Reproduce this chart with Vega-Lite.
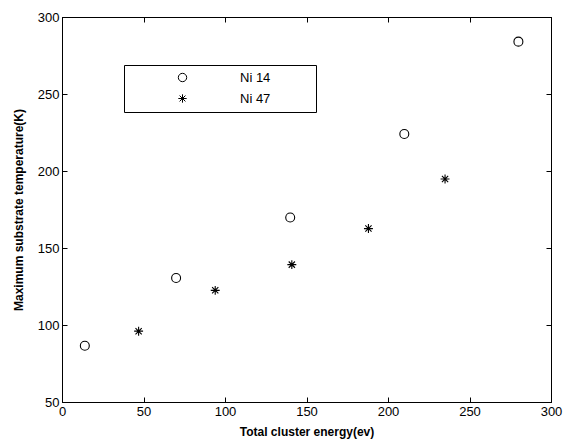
{
  "$schema": "https://vega.github.io/schema/vega-lite/v6.json",
  "width": 489,
  "height": 385,
  "autosize": {"type": "none"},
  "padding": {"left": 62, "top": 17, "right": 12, "bottom": 41},
  "background": "white",
  "config": {
    "view": {"stroke": "black", "strokeWidth": 1},
    "font": "Liberation Sans",
    "axis": {
      "grid": false,
      "domainColor": "black",
      "tickColor": "black",
      "labelColor": "black",
      "titleColor": "black",
      "tickSize": -5,
      "labelFont": "Liberation Sans",
      "labelFontSize": 13,
      "titleFont": "Liberation Sans",
      "titleFontSize": 12,
      "titleFontWeight": "bold",
      "labelFlush": false,
      "labelOverlap": false
    }
  },
  "data": {
    "values": [
      {"energy": 14, "temp": 86.5, "series": "Ni 14"},
      {"energy": 70, "temp": 130.5, "series": "Ni 14"},
      {"energy": 140, "temp": 169.8, "series": "Ni 14"},
      {"energy": 210, "temp": 224, "series": "Ni 14"},
      {"energy": 280, "temp": 284, "series": "Ni 14"},
      {"energy": 47, "temp": 96, "series": "Ni 47"},
      {"energy": 94, "temp": 122.5, "series": "Ni 47"},
      {"energy": 141, "temp": 139.2, "series": "Ni 47"},
      {"energy": 188, "temp": 162.6, "series": "Ni 47"},
      {"energy": 235, "temp": 194.8, "series": "Ni 47"}
    ]
  },
  "layer": [
    {
      "mark": {"type": "point", "filled": false, "strokeWidth": 1.1, "color": "black", "size": 80, "opacity": 1},
      "encoding": {
        "x": {
          "field": "energy", "type": "quantitative",
          "scale": {"domain": [0, 300], "nice": false, "zero": false},
          "axis": {"orient": "bottom", "values": [0, 50, 100, 150, 200, 250, 300], "title": "Total cluster energy(ev)", "labelPadding": 8, "titlePadding": 8}
        },
        "y": {
          "field": "temp", "type": "quantitative",
          "scale": {"domain": [50, 300], "nice": false, "zero": false},
          "axis": {"orient": "left", "values": [50, 100, 150, 200, 250, 300], "title": "Maximum substrate temperature(K)", "labelPadding": 8, "titlePadding": 12}
        },
        "shape": {
          "field": "series", "type": "nominal",
          "scale": {"domain": ["Ni 14", "Ni 47"], "range": ["circle", "M0,-1V1M-1,0H1M-0.7,-0.7L0.7,0.7M-0.7,0.7L0.7,-0.7"]},
          "legend": {
            "orient": "none", "legendX": 62, "legendY": 48,
            "title": ".", "titleOrient": "right", "titlePadding": 36, "titleColor": "white", "titleFontSize": 13,
            "strokeColor": "black", "fillColor": "white", "padding": 6,
            "symbolOffset": 46, "labelOffset": 51, "rowPadding": 7,
            "labelFontSize": 13, "labelFont": "Liberation Sans", "labelColor": "black",
            "symbolStrokeColor": "black", "symbolStrokeWidth": 1, "symbolSize": 70, "symbolFillColor": "transparent"
          }
        }
      }
    },
    {
      "mark": {"type": "point", "opacity": 0},
      "encoding": {
        "x": {
          "field": "energy", "type": "quantitative",
          "axis": {"orient": "top", "values": [0, 50, 100, 150, 200, 250, 300], "labels": false, "title": null}
        },
        "y": {
          "field": "temp", "type": "quantitative",
          "axis": {"orient": "right", "values": [50, 100, 150, 200, 250, 300], "labels": false, "title": null}
        }
      }
    }
  ],
  "resolve": {"axis": {"x": "independent", "y": "independent"}}
}
